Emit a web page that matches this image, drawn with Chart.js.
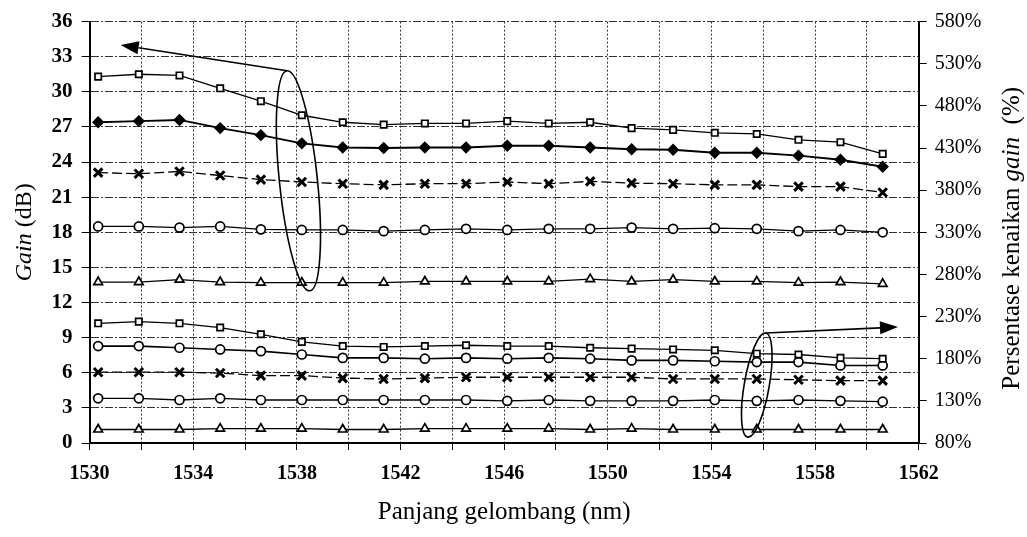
<!DOCTYPE html>
<html>
<head>
<meta charset="utf-8">
<script src="https://cdn.jsdelivr.net/npm/chart.js@4.4.1/dist/chart.umd.min.js"></script>
<style>
  html, body { margin: 0; padding: 0; background: #fff; }
</style>
</head>
<body>
<canvas id="gainChart" width="1027" height="537"></canvas>
<script>
// channel wavelengths (nm)
const wavelengths = [1530.33, 1531.90, 1533.47, 1535.04, 1536.61, 1538.19, 1539.77, 1541.35, 1542.94, 1544.53,
                     1546.12, 1547.72, 1549.32, 1550.92, 1552.52, 1554.13, 1555.75, 1557.36, 1558.98, 1560.61];

// gain (dB), left axis
const gainSquare   = [31.3, 31.5, 31.4, 30.3, 29.2, 28.0, 27.4, 27.2, 27.3, 27.3, 27.5, 27.3, 27.4, 26.9, 26.75, 26.5, 26.4, 25.9, 25.7, 24.7];
const gainDiamond  = [27.4, 27.5, 27.6, 26.9, 26.3, 25.6, 25.25, 25.2, 25.25, 25.25, 25.4, 25.4, 25.25, 25.1, 25.05, 24.8, 24.8, 24.55, 24.2, 23.6];
const gainCross    = [23.1, 23.0, 23.2, 22.85, 22.5, 22.3, 22.15, 22.05, 22.15, 22.15, 22.3, 22.15, 22.35, 22.2, 22.15, 22.05, 22.05, 21.9, 21.9, 21.4];
const gainCircle   = [18.5, 18.5, 18.4, 18.5, 18.25, 18.2, 18.2, 18.1, 18.2, 18.3, 18.2, 18.3, 18.3, 18.4, 18.3, 18.35, 18.3, 18.1, 18.2, 18.0];
const gainTriangle = [13.75, 13.75, 13.95, 13.75, 13.7, 13.7, 13.7, 13.7, 13.8, 13.8, 13.8, 13.8, 14.0, 13.8, 13.95, 13.8, 13.8, 13.7, 13.75, 13.6];

// gain increase (%), right axis
const pctSquare   = [222, 224, 222, 217, 209, 200, 195, 194, 195, 196, 195, 195, 193, 192, 191, 190, 186, 185, 181, 180];
const pctCircleA  = [195, 195, 193, 191, 189, 185, 181, 181, 180, 181, 180, 181, 180, 178, 178, 177, 176, 176, 172, 172];
const pctCross    = [164, 164, 164, 163, 160, 160, 157, 156, 157, 158, 158, 158, 158, 158, 156, 156, 156, 155, 154, 154];
const pctCircleB  = [133, 133, 131, 133, 131, 131, 131, 131, 131, 131, 130, 131, 130, 130, 130, 131, 130, 131, 130, 129];
const pctTriangle = [96, 96, 96, 97, 97, 97, 96, 96, 97, 97, 97, 97, 96, 97, 96, 96, 96, 96, 96, 96];

// axis ticks
const xTicks = { min: 1530, max: 1562, step: 2, labelEvery: 4 };
const gainTicks = { min: 0, max: 36, step: 3 };
const pctTicks = { min: 80, max: 580, step: 50 };

const FONT = '"Liberation Serif", "Times New Roman", serif';

const pts = (vals) => vals.map((v, i) => ({ x: wavelengths[i], y: v }));

function series(label, vals, axis, style, extra) {
    return Object.assign({
        label: label,
        data: pts(vals),
        yAxisID: axis,
        borderColor: '#000',
        borderWidth: 1.3,
        pointStyle: style,
        pointRadius: 4.5,
        pointBorderWidth: 1.7,
        pointBorderColor: '#000',
        pointBackgroundColor: '#fff',
        tension: 0
    }, extra || {});
}

// rich text: parts = [[text, italic], ...]
function drawRich(ctx, parts, cx, cy, rot, size) {
    ctx.save();
    ctx.translate(cx, cy);
    ctx.rotate(rot);
    ctx.fillStyle = '#000';
    ctx.textBaseline = 'middle';
    ctx.textAlign = 'left';
    let total = 0;
    parts.forEach(p => {
        ctx.font = (p[1] ? 'italic ' : '') + size + 'px ' + FONT;
        total += ctx.measureText(p[0]).width;
    });
    let x = -total / 2;
    parts.forEach(p => {
        ctx.font = (p[1] ? 'italic ' : '') + size + 'px ' + FONT;
        ctx.fillText(p[0], x, 0);
        x += ctx.measureText(p[0]).width;
    });
    ctx.restore();
}

function arrow(ctx, x1, y1, x2, y2) {
    const a = Math.atan2(y2 - y1, x2 - x1);
    const len = 18, half = 6.5;
    ctx.beginPath();
    ctx.moveTo(x1, y1);
    ctx.lineTo(x2 - len * Math.cos(a), y2 - len * Math.sin(a));
    ctx.stroke();
    ctx.beginPath();
    ctx.moveTo(x2, y2);
    ctx.lineTo(x2 - len * Math.cos(a) + half * Math.sin(a), y2 - len * Math.sin(a) - half * Math.cos(a));
    ctx.lineTo(x2 - len * Math.cos(a) - half * Math.sin(a), y2 - len * Math.sin(a) + half * Math.cos(a));
    ctx.closePath();
    ctx.fill();
}

function ellipse(ctx, x1, y1, x2, y2, minor) {
    const cx = (x1 + x2) / 2, cy = (y1 + y2) / 2;
    const major = Math.hypot(x2 - x1, y2 - y1) / 2;
    ctx.beginPath();
    ctx.ellipse(cx, cy, major, minor, Math.atan2(y2 - y1, x2 - x1), 0, Math.PI * 2);
    ctx.stroke();
}

// ellipses marking each group, with arrows pointing to their axis
const decorations = {
    id: 'decorations',
    afterDatasetsDraw(chart) {
        const { ctx, scales: { x, y, y2 } } = chart;
        ctx.save();
        ctx.strokeStyle = '#000';
        ctx.fillStyle = '#000';
        ctx.lineWidth = 1.6;

        // gain group -> left axis
        const topA = [x.getPixelForValue(1537.62), y.getPixelForValue(31.8)];
        ellipse(ctx, topA[0], topA[1], x.getPixelForValue(1538.5), y.getPixelForValue(13.0), 19);
        arrow(ctx, topA[0], topA[1], x.getPixelForValue(1531.2), y.getPixelForValue(34.0));

        // percentage group -> right axis
        const topB = [x.getPixelForValue(1556.1), y2.getPixelForValue(210.6)];
        ellipse(ctx, topB[0], topB[1], x.getPixelForValue(1555.4), y2.getPixelForValue(87), 12.5);
        arrow(ctx, topB[0], topB[1], x.getPixelForValue(1561.2), y2.getPixelForValue(217.6));
        ctx.restore();
    },
    afterDraw(chart) {
        const { ctx, chartArea: ca } = chart;
        const midY = (ca.top + ca.bottom) / 2;
        drawRich(ctx, [['Gain', true], [' (dB)', false]], 25, midY, -Math.PI / 2, 24);
        drawRich(ctx, [['Persentase kenaikan ', false], ['gain', true], ['  (%)', false]], 1012, midY + 6, -Math.PI / 2, 25);
        drawRich(ctx, [['Panjang gelombang (nm)', false]], (ca.left + ca.right) / 2, 512, 0, 25);
    }
};

new Chart(document.getElementById('gainChart').getContext('2d'), {
    type: 'line',
    data: {
        datasets: [
            series('Gain 1', gainSquare, 'y', 'rect'),
            series('Gain 2', gainDiamond, 'y', 'rectRot', { borderWidth: 1.9, pointBackgroundColor: '#000', pointRadius: 5 }),
            series('Gain 3', gainCross, 'y', 'crossRot', { borderDash: [10, 4], pointBorderWidth: 3, pointRadius: 6 }),
            series('Gain 4', gainCircle, 'y', 'circle'),
            series('Gain 5', gainTriangle, 'y', 'triangle', { pointRadius: 5 }),
            series('Persen 1', pctSquare, 'y2', 'rect'),
            series('Persen 2', pctCircleA, 'y2', 'circle', { borderWidth: 1.6 }),
            series('Persen 3', pctCross, 'y2', 'crossRot', { borderDash: [10, 4], pointBorderWidth: 3, pointRadius: 6 }),
            series('Persen 4', pctCircleB, 'y2', 'circle'),
            series('Persen 5', pctTriangle, 'y2', 'triangle', { pointRadius: 5 })
        ]
    },
    options: {
        responsive: false,
        animation: false,
        layout: { padding: { left: 0, right: 0, top: 18, bottom: 0 } },
        plugins: {
            legend: { display: false },
            tooltip: { enabled: false }
        },
        scales: {
            x: {
                type: 'linear',
                min: xTicks.min,
                max: xTicks.max,
                afterFit: (s) => { s.height = 94; },
                ticks: {
                    stepSize: xTicks.step,
                    autoSkip: false,
                    maxRotation: 0,
                    padding: 12,
                    color: '#000',
                    font: { family: FONT, size: 20, weight: 'bold' },
                    callback: (v) => ((v - xTicks.min) % xTicks.labelEvery === 0 ? String(v) : '')
                },
                grid: { color: '#333', lineWidth: 1, tickColor: '#000', tickLength: 7 },
                border: { display: true, color: '#000', width: 2, dash: [2, 2] }
            },
            y: {
                position: 'left',
                min: gainTicks.min,
                max: gainTicks.max,
                afterFit: (s) => { s.width = 89.6; },
                ticks: {
                    stepSize: gainTicks.step,
                    padding: 9,
                    color: '#000',
                    font: { family: FONT, size: 21, weight: 'bold' }
                },
                grid: { color: '#333', lineWidth: 1, tickColor: '#000', tickLength: 8 },
                border: { display: true, color: '#000', width: 2, dash: [8, 2, 2, 2] }
            },
            y2: {
                position: 'right',
                min: pctTicks.min,
                max: pctTicks.max,
                afterFit: (s) => { s.width = 108.3; },
                ticks: {
                    stepSize: pctTicks.step,
                    padding: 8,
                    color: '#000',
                    font: { family: FONT, size: 20 },
                    callback: (v) => v + '%'
                },
                grid: { drawOnChartArea: false, tickColor: '#000', tickLength: 8 },
                border: { display: true, color: '#000', width: 2 }
            }
        }
    },
    plugins: [decorations]
});
</script>
</body>
</html>
